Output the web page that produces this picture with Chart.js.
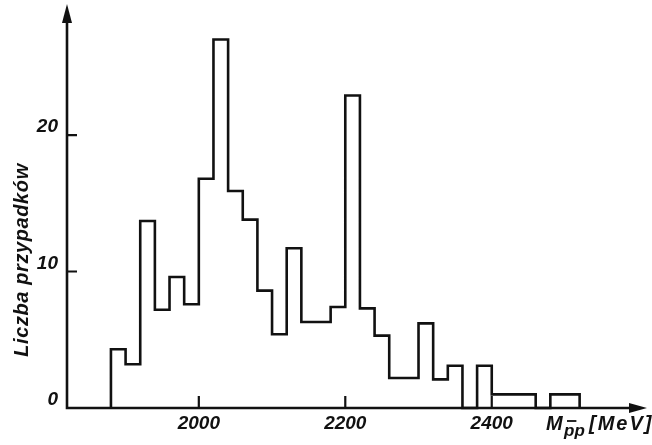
<!DOCTYPE html>
<html><head><meta charset="utf-8">
<script src="https://cdn.jsdelivr.net/npm/chart.js@4/dist/chart.umd.min.js"></script>
<style>html,body{margin:0;padding:0;background:#fff;}#wrap{width:652px;height:445px;position:relative;}</style>
</head><body><div id="wrap"><canvas id="c"></canvas></div>
<script>
// ---- data ----
const binEdges = [1880,1900,1920,1940,1960,1980,2000,2020,2040,2060,2080,2100,2120,2140,2160,2180,
                  2200,2220,2240,2260,2280,2300,2320,2340,2360,2380,2400,2420,2440,2460,2480,2500,2520];
const counts   = [4.3,3.2,13.7,7.2,9.6,7.6,16.8,27.0,15.9,13.8,8.6,5.4,11.7,6.3,6.3,7.4,
                  22.9,7.3,5.3,2.2,2.2,6.2,2.1,3.1,0,3.1,1.0,1.0,1.0,0,1.0,1.0];
const xTickValues = [2000, 2200, 2400];
const yTickValues = [0, 10, 20];
const yTitle = 'Liczba przypadków';
const xTitleMain = 'M';
const xTitleSub = 'pp';
const xTitleUnit = '[MeV]';

const ink = '#111';
const tickFont = {family: '"Liberation Sans", sans-serif', size: 19, style: 'italic', weight: 'bold'};

// histogram outline points (step at each bin's left edge)
const pts = [{x: binEdges[0], y: 0}];
counts.forEach((c, i) => pts.push({x: binEdges[i], y: c}));
pts.push({x: binEdges[binEdges.length - 1], y: 0});

const axesPlugin = {
  id: 'axesDeco',
  afterDraw(chart) {
    const ctx = chart.ctx, xs = chart.scales.x, ys = chart.scales.y, ca = chart.chartArea;
    const y0 = ys.getPixelForValue(0);
    ctx.save();
    ctx.strokeStyle = ink; ctx.fillStyle = ink; ctx.lineWidth = 2.6; ctx.lineCap = 'butt';
    // axes
    ctx.beginPath();
    ctx.moveTo(ca.left, y0); ctx.lineTo(ca.right - 10, y0);
    ctx.moveTo(ca.left, y0 + 1.3); ctx.lineTo(ca.left, ca.top + 10);
    ctx.stroke();
    // arrowheads
    ctx.beginPath();
    ctx.moveTo(ca.right, y0); ctx.lineTo(ca.right - 18, y0 - 5); ctx.lineTo(ca.right - 18, y0 + 5); ctx.closePath();
    ctx.fill();
    ctx.beginPath();
    ctx.moveTo(ca.left, ca.top); ctx.lineTo(ca.left - 5, ca.top + 19); ctx.lineTo(ca.left + 5, ca.top + 19); ctx.closePath();
    ctx.fill();
    // tick marks (inward)
    ctx.lineWidth = 2.2;
    ctx.beginPath();
    xTickValues.forEach(v => { const p = xs.getPixelForValue(v); ctx.moveTo(p, y0); ctx.lineTo(p, y0 - 12); });
    yTickValues.forEach(v => { if (v === 0) return; const p = ys.getPixelForValue(v); ctx.moveTo(ca.left, p); ctx.lineTo(ca.left + 10, p); });
    ctx.stroke();
    // y title
    ctx.save();
    ctx.translate(22, 260); ctx.rotate(-Math.PI / 2);
    ctx.font = 'italic bold 20px "Liberation Sans", sans-serif';
    ctx.letterSpacing = '0.6px';
    ctx.textAlign = 'center'; ctx.textBaseline = 'middle';
    ctx.fillText(yTitle, 0, 0);
    ctx.restore();
    // x title
    ctx.font = 'italic bold 20px "Liberation Sans", sans-serif';
    ctx.textAlign = 'left'; ctx.textBaseline = 'alphabetic';
    ctx.fillText(xTitleMain, 546, 430);
    ctx.font = 'italic bold 17px "Liberation Sans", sans-serif';
    ctx.fillText(xTitleSub, 564, 436);
    const pw = ctx.measureText('p').width;
    ctx.lineWidth = 1.8;
    ctx.beginPath(); ctx.moveTo(567, 421); ctx.lineTo(567 + pw - 1, 421); ctx.stroke();
    ctx.font = 'italic bold 20px "Liberation Sans", sans-serif';
    ctx.letterSpacing = '2px';
    ctx.fillText(xTitleUnit, 589, 430);
    ctx.restore();
  }
};

new Chart(document.getElementById('c'), {
  type: 'line',
  data: {
    datasets: [{
      data: pts,
      stepped: 'before',
      borderColor: ink,
      borderWidth: 2.6,
      pointRadius: 0,
      fill: false,
      tension: 0,
      clip: false
    }]
  },
  options: {
    responsive: true,
    maintainAspectRatio: false,
    animation: false,
    devicePixelRatio: 1,
    layout: {padding: {left: 0, top: 4, right: 5, bottom: 0}},
    plugins: {legend: {display: false}, tooltip: {enabled: false}},
    scales: {
      x: {
        type: 'linear', min: 1820, max: 2612,
        grid: {display: false, drawTicks: false},
        border: {display: false},
        afterBuildTicks: s => { s.ticks = xTickValues.map(v => ({value: v})); },
        afterFit: s => { s.height = 37; s.paddingLeft = 0; s.paddingRight = 0; },
        ticks: {color: ink, font: tickFont, padding: 4, maxRotation: 0, autoSkip: false, callback: v => String(v)}
      },
      y: {
        type: 'linear', min: 0, max: 29.6,
        grid: {display: false, drawTicks: false},
        border: {display: false},
        afterBuildTicks: s => { s.ticks = yTickValues.map(v => ({value: v})); },
        afterFit: s => { s.width = 67; s.paddingTop = 0; s.paddingBottom = 0; },
        ticks: {color: ink, font: tickFont, padding: 9, labelOffset: -8, autoSkip: false, callback: v => String(v)}
      }
    }
  },
  plugins: [axesPlugin]
});
</script>
</body></html>
